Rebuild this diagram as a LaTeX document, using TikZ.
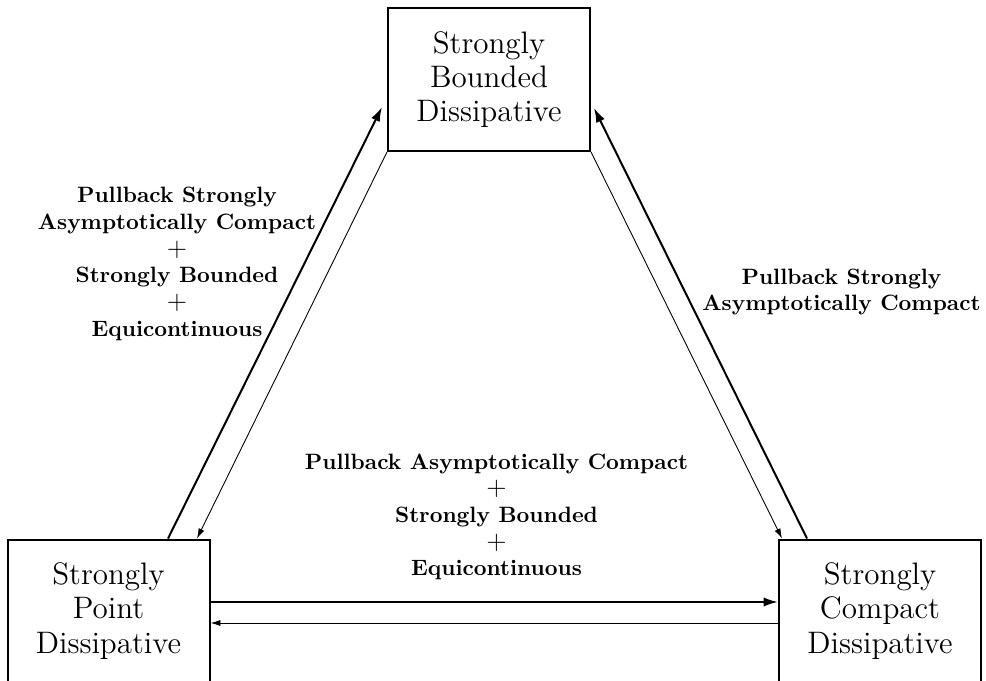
\documentclass[tikz,border=0pt]{standalone}
\usetikzlibrary{arrows.meta,calc,positioning}
\tikzset{
  dissbox/.style = {
    rectangle,
    draw=black,
    line width=0.9pt,
    minimum width=91pt,
    minimum height=64.4pt,
    inner sep=0pt,
    align=center,
    font=\fontsize{14}{15.5}\selectfont
  },
  cond/.style = {
    align=center,
    inner sep=0pt,
    font=\bfseries
  },
  strong/.style = {
    line width=0.9pt,
    -{Latex[length=6.5pt,width=4.2pt]}
  },
  weak/.style = {
    line width=0.4pt,
    -{Latex[length=4.5pt,width=2.8pt]}
  }
}
\newcommand{\bigplus}{{\large$+$}}

\begin{document}
\begin{tikzpicture}[x=0.4505pt, y=-0.4505pt]

\useasboundingbox (0,0) rectangle (986,681);

% Dissipativitaet
\node[dissbox] (bounded) at (489,79.5) {Strongly\\Bounded\\Dissipative};
\node[dissbox] (point) at (108.5,611) {Strongly\\Point\\Dissipative};
\node[dissbox] (compact) at (880,611) {Strongly\\Compact\\Dissipative};

% Bedingungen
\node[cond] (cond_left) at (177,264) {Pullback Strongly\\Asymptotically Compact\\\bigplus\\Strongly Bounded\\\bigplus\\Equicontinuous};
\node[cond] (cond_right) at (841.5,292) {Pullback Strongly\\Asymptotically Compact};
\node[cond] (cond_mid) at (496.5,517) {Pullback Asymptotically Compact\\\bigplus\\Strongly Bounded\\\bigplus\\Equicontinuous};

% Punkt <-> Beschraenkt
\draw[strong] ($(point.north)+(59.5,0)$) -- ($(bounded.west)+(-5,27.5)$);
\draw[weak] (bounded.south west) -- ($(point.north)+(88.5,0)$);

% Kompakt <-> Beschraenkt
\draw[strong] ($(compact.north)+(-73,0)$) -- ($(bounded.east)+(3,28.5)$);
\draw[weak] (bounded.south east) -- ($(compact.north)+(-98,0)$);

% Punkt <-> Kompakt
\draw[strong] ($(point.east)+(0,-9)$) -- ($(compact.west)+(0,-9)$);
\draw[weak] ($(compact.west)+(0,12)$) -- ($(point.east)+(0,12)$);

\end{tikzpicture}
\end{document}
